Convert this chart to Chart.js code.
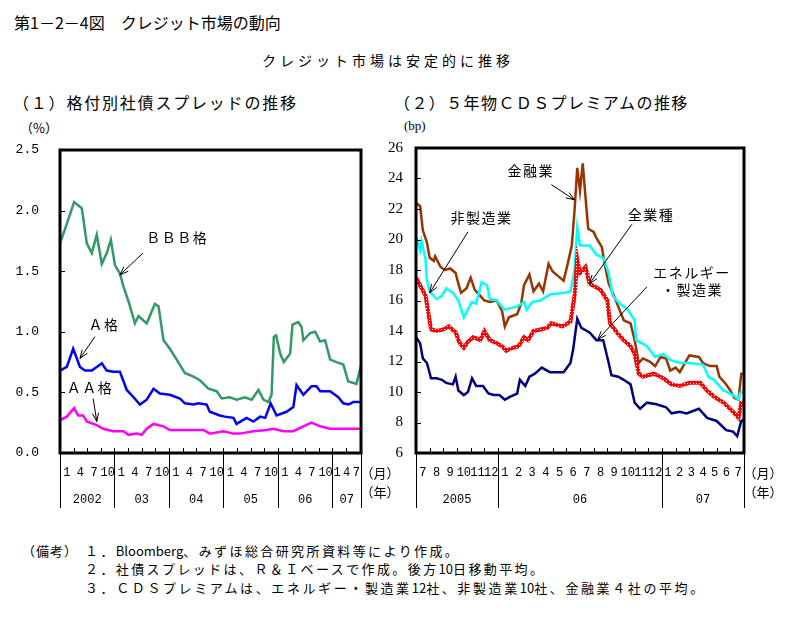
<!DOCTYPE html>
<html>
<head>
<meta charset="utf-8">
<title>クレジット市場の動向</title>
<script src="https://cdn.jsdelivr.net/npm/chart.js@4.4.0/dist/chart.umd.min.js"></script>
<style>
  body { margin: 0; background: #fff; font-family: "Noto Sans CJK JP", sans-serif; color: #000; }
  #page { position: relative; width: 796px; height: 623px; overflow: hidden; }
  .t { position: absolute; white-space: nowrap; }
  .t span { letter-spacing: 0; }
  canvas { position: absolute; }
</style>
</head>
<body>
<div id="page">
  <div class="t" style="left:14px;top:12px;font-size:16px;line-height:20px;">第1－2－4図　クレジット市場の動向</div>
  <div class="t" style="left:262px;top:50px;font-size:14px;line-height:20px;letter-spacing:4px;">クレジット市場は安定的に推移</div>
  <div class="t" style="left:13px;top:92px;font-size:16px;line-height:20px;letter-spacing:1.8px;">（１）格付別社債スプレッドの推移</div>
  <div class="t" style="left:394px;top:92px;font-size:16px;line-height:20px;letter-spacing:1.4px;">（２）５年物ＣＤＳプレミアムの推移</div>
  <div class="t" style="left:20px;top:119px;font-size:13px;line-height:18px;">（%）</div>
  <div class="t" style="left:404px;top:117px;font-size:13px;line-height:18px;font-family:'Liberation Serif',serif;">(bp)</div>

  <canvas id="spreadChart" width="400" height="390" style="left:0;top:130px"></canvas>
  <canvas id="cdsChart" width="410" height="390" style="left:380px;top:130px"></canvas>

  <div class="t" style="left:22px;top:542px;font-size:13px;line-height:18px;letter-spacing:1px;">（備考）</div>
  <div class="t" style="left:85px;top:542px;font-size:13px;line-height:18px;letter-spacing:2.4px;">１．<span>Bloomberg</span>、みずほ総合研究所資料等により作成。</div>
  <div class="t" style="left:85px;top:560px;font-size:13px;line-height:18px;letter-spacing:2.4px;">２．社債スプレッドは、Ｒ＆Ｉベースで作成。後方<span>10</span>日移動平均。</div>
  <div class="t" style="left:85px;top:579px;font-size:13px;line-height:18px;letter-spacing:2.6px;">３．ＣＤＳプレミアムは、エネルギー・製造業<span>12</span>社、非製造業<span>10</span>社、金融業４社の平均。</div>
</div>

<script>
// (1) 格付別社債スプレッド (%)   x = 2002年1月からの月数
var bbbSpread = [[0,1.73],[1.5,1.89],[3.1,2.07],[4.8,2.02],[5.9,1.73],[7.0,1.65],[8.1,1.80],[9.2,1.56],[10.3,1.65],[11.2,1.76],
  [12.1,1.55],[13.2,1.48],[14.0,1.37],[15.1,1.25],[16.5,1.07],[17.3,1.13],[19.1,1.07],[20.9,1.23],[21.7,1.21],[22.8,0.93],
  [24.2,0.86],[25.7,0.77],[27.5,0.66],[29.4,0.63],[30.8,0.60],[32.7,0.53],[34.5,0.51],[35.6,0.45],[37.4,0.46],[38.9,0.44],
  [40.7,0.46],[42.2,0.44],[43.7,0.52],[44.8,0.44],[45.9,0.42],[46.6,0.48],[47.1,0.96],[47.6,0.97],[48.5,0.82],[49.3,0.75],
  [50.7,0.82],[51.2,1.06],[52.5,1.08],[53.2,1.04],[53.6,0.93],[55.1,0.99],[56.2,1.00],[57.3,0.92],[58.4,0.93],[59.5,0.77],
  [60.9,0.75],[62.4,0.73],[63.5,0.59],[65.3,0.57],[66.3,0.72]];
var aSpread = [[0,0.68],[1.5,0.71],[2.9,0.86],[4.4,0.71],[5.5,0.68],[7.0,0.68],[8.1,0.71],[9.2,0.74],[10.3,0.68],[11.7,0.67],
  [13.2,0.67],[14.7,0.52],[16.2,0.46],[17.6,0.40],[19.1,0.44],[20.6,0.53],[22.0,0.49],[24.2,0.48],[26.4,0.45],[27.5,0.41],
  [29.4,0.40],[30.5,0.41],[32.3,0.40],[33.0,0.34],[35.2,0.31],[36.3,0.30],[38.2,0.29],[38.9,0.24],[41.1,0.29],[42.6,0.26],
  [44.1,0.30],[45.2,0.29],[46.4,0.41],[47.7,0.31],[49.9,0.34],[51.4,0.38],[52.1,0.56],[53.6,0.48],[55.4,0.55],[56.5,0.55],
  [57.3,0.51],[59.5,0.51],[61.3,0.46],[62.4,0.41],[63.5,0.40],[64.6,0.42],[66.3,0.42]];
var aaSpread = [[0,0.27],[1.5,0.30],[3.1,0.37],[4.0,0.31],[5.1,0.31],[5.9,0.26],[8.1,0.23],[9.5,0.20],[11.7,0.18],[14.0,0.18],
  [15.1,0.15],[16.9,0.16],[18.0,0.15],[19.1,0.20],[20.6,0.24],[22.8,0.22],[24.2,0.19],[26.4,0.19],[29.4,0.19],[31.6,0.19],
  [33.0,0.16],[36.0,0.18],[38.2,0.16],[39.6,0.16],[42.6,0.18],[45.5,0.19],[47.0,0.20],[49.2,0.18],[51.4,0.18],[53.6,0.22],
  [55.4,0.25],[57.3,0.22],[59.5,0.20],[61.7,0.20],[63.9,0.20],[66.3,0.20]];

var spreadYears = ['2002', '03', '04', '05', '06', '07'];
var spreadYearStart = [0, 12, 24, 36, 48, 60];
var spreadMonths = [['1','4','7','10'], ['1','4','7','10'], ['1','4','7','10'], ['1','4','7','10'], ['1','4','7','10'], ['1','4','7']];
var spreadEnd = 66.3;

// (2) 5年物CDSプレミアム (bp)   x = 2005年7月からの月数
var financeCds = [[0,22.4],[0.3,22.2],[0.5,20.6],[0.8,19.8],[1.0,18.8],[1.3,18.6],[1.4,18.9],[1.8,18.2],[2.1,18.0],[2.5,18.1],
  [2.9,17.8],[3.1,17.1],[3.3,16.5],[3.7,16.8],[4.0,17.5],[4.3,16.7],[4.7,16.3],[5.0,16.0],[5.4,15.9],[5.9,16.0],
  [6.3,15.3],[6.5,14.3],[6.8,14.9],[7.4,15.1],[7.7,15.8],[7.9,17.0],[8.3,17.7],[8.6,16.6],[9.0,17.1],[9.3,16.6],
  [9.7,18.4],[10.0,17.9],[10.4,17.6],[10.8,17.3],[11.1,18.4],[11.4,19.6],[11.6,21.9],[11.8,24.7],[12.0,23.2],[12.2,25.0],
  [12.4,22.8],[12.6,20.7],[13.0,20.5],[13.2,20.1],[13.6,19.5],[13.8,18.4],[14.1,17.1],[14.4,16.5],[14.8,15.6],[15.2,14.7],
  [15.7,14.5],[16.0,13.4],[16.3,11.9],[16.6,12.2],[17.1,12.0],[17.5,11.7],[17.9,12.3],[18.3,12.2],[18.6,11.4],[19.0,11.6],
  [19.3,11.3],[20.0,12.4],[20.7,12.3],[21.0,11.9],[21.5,11.7],[22.0,11.7],[22.2,11.0],[22.6,10.6],[23.0,10.1],[23.3,9.6],
  [23.6,9.5],[23.8,11.2],[24.0,11.2]];
var nonMfgCds = [[0,20.2],[0.3,19.3],[0.4,19.9],[0.7,18.7],[0.8,17.3],[1.0,16.6],[1.5,16.1],[1.9,16.3],[2.2,16.8],[2.7,16.5],
  [3.1,16.0],[3.5,14.9],[3.8,15.4],[4.1,15.9],[4.4,15.8],[4.8,17.2],[5.2,17.0],[5.4,16.1],[5.9,16.0],[6.1,15.8],
  [6.5,15.4],[6.9,15.5],[7.4,15.6],[7.9,15.9],[8.1,15.4],[8.5,15.9],[9.1,16.0],[9.8,16.4],[10.8,16.5],[11.3,16.6],
  [11.6,18.0],[11.8,20.8],[12.0,19.6],[12.7,19.6],[13.2,19.0],[13.7,18.8],[14.1,17.8],[14.4,16.3],[14.9,15.8],[15.5,15.4],
  [16.0,14.7],[16.1,13.4],[16.5,13.2],[16.9,13.0],[17.5,12.3],[18.1,12.5],[18.6,12.1],[19.3,11.9],[20.0,11.9],[21.0,11.8],
  [21.4,11.0],[21.8,10.8],[22.5,10.1],[23.2,9.8],[23.6,9.5],[23.7,9.9],[24.0,10.1]];
var allCds = [[0,17.5],[0.3,17.0],[0.7,16.3],[0.9,15.2],[1.1,14.1],[1.5,14.0],[2.0,14.1],[2.4,14.3],[2.9,13.9],[3.2,13.2],
  [3.5,12.9],[3.8,13.3],[4.2,13.6],[4.7,13.4],[5.0,14.0],[5.4,13.4],[5.9,13.2],[6.3,13.0],[6.6,12.7],[7.1,12.9],
  [7.5,13.0],[7.9,13.6],[8.2,13.4],[8.6,14.0],[9.1,14.1],[9.6,14.2],[9.9,14.5],[10.7,14.3],[11.3,14.6],[11.6,16.3],
  [11.8,18.7],[12.0,17.8],[12.4,18.2],[12.7,17.1],[13.5,16.7],[14.0,16.0],[14.2,14.5],[14.7,13.9],[15.2,13.4],[15.7,13.0],
  [16.0,12.5],[16.3,11.2],[16.6,11.0],[17.4,11.2],[18.1,10.9],[18.7,10.5],[19.3,10.4],[20.0,10.6],[20.8,10.6],[21.3,10.1],
  [21.8,9.7],[22.5,9.3],[23.2,8.7],[23.6,8.3],[23.8,9.3],[24.0,9.3]];
var energyMfgCds = [[0,13.6],[0.3,13.2],[0.5,12.2],[0.8,11.9],[1.1,10.9],[1.5,10.9],[1.9,10.8],[2.2,10.6],[2.7,10.5],[2.9,11.0],
  [3.1,10.1],[3.5,9.8],[3.8,10.0],[4.1,10.9],[4.4,10.4],[4.9,10.4],[5.3,9.9],[5.7,9.8],[6.1,9.8],[6.5,9.5],
  [6.9,9.7],[7.4,9.9],[7.6,10.8],[8.0,10.4],[8.3,11.0],[8.7,11.2],[9.2,11.6],[9.8,11.3],[10.8,11.3],[11.3,11.9],
  [11.5,12.8],[11.8,14.8],[12.1,14.2],[12.7,13.9],[13.2,13.4],[13.7,13.4],[14.1,11.9],[14.3,11.1],[14.8,11.0],[15.2,10.8],
  [15.7,10.5],[16.0,9.3],[16.4,8.9],[16.9,9.3],[17.6,9.2],[18.3,9.0],[18.7,8.6],[19.3,8.7],[19.8,8.6],[20.7,8.9],
  [21.3,8.3],[22.0,8.1],[22.7,7.5],[23.2,7.4],[23.5,7.1],[23.8,8.1],[24.0,8.2]];

var cdsYears = ['2005', '06', '07'];
var cdsYearStart = [0, 6, 18];
var cdsMonths = [['7','8','9','10','11','12'], ['1','2','3','4','5','6','7','8','9','10','11','12'], ['1','2','3','4','5','6','7']];
var cdsEnd = 24;

// 矢印付きの注記 (データ座標)
var spreadNotes = [
  { lines: ['ＢＢＢ格'], at: [25.8, 1.78], from: [18.3, 1.65], to: [13.2, 1.47] },
  { lines: ['Ａ格'], at: [9.7, 1.06], from: [7.7, 0.96], to: [4.4, 0.78] },
  { lines: ['ＡＡ格'], at: [6.6, 0.54], from: [7.3, 0.45], to: [8.1, 0.26] }
];
var cdsNotes = [
  { lines: ['金融業'], at: [8.4, 24.5], from: [9.9, 23.6], to: [11.6, 22.6] },
  { lines: ['非製造業'], at: [4.8, 21.4], from: [3.8, 20.5], to: [1.0, 16.5] },
  { lines: ['全業種'], at: [17.2, 21.6], from: [15.8, 21.0], to: [12.7, 17.1] },
  { lines: ['エネルギー', '・製造業'], at: [20.2, 17.85], from: [16.9, 16.9], to: [13.3, 13.45] }
];

function pts(arr) {
  return arr.map(function (p) { return { x: p[0], y: p[1] }; });
}

function line(data, color, width) {
  return { data: pts(data), borderColor: color, borderWidth: width, pointRadius: 0, tension: 0, fill: false };
}

// 枠線・目盛り・月/年ラベル・注記
var framePlugin = {
  id: 'frame',
  afterDraw: function (chart) {
    var o = chart.options.plugins.frame;
    var ctx = chart.ctx, a = chart.chartArea, xs = chart.scales.x, ys = chart.scales.y;
    ctx.save();
    ctx.strokeStyle = '#000';
    ctx.fillStyle = '#000';

    // inward ticks
    ctx.lineWidth = 1;
    ys.ticks.forEach(function (t) {
      var py = Math.round(ys.getPixelForValue(t.value)) + 0.5;
      ctx.beginPath(); ctx.moveTo(a.left, py); ctx.lineTo(a.left + 5, py); ctx.stroke();
    });
    for (var m = o.tickStep; m < o.end; m += o.tickStep) {
      var px = Math.round(xs.getPixelForValue(m)) + 0.5;
      ctx.beginPath(); ctx.moveTo(px, a.bottom); ctx.lineTo(px, a.bottom - 5); ctx.stroke();
    }

    // year dividers and labels
    ctx.font = o.labelFont;
    ctx.textAlign = 'center';
    ctx.textBaseline = 'middle';
    var bounds = o.yearStart.concat([o.end]);
    bounds.forEach(function (b) {
      var px = Math.round(xs.getPixelForValue(b)) + 0.5;
      ctx.beginPath(); ctx.moveTo(px, a.bottom); ctx.lineTo(px, a.bottom + 55); ctx.stroke();
    });
    o.years.forEach(function (yr, i) {
      var x0 = xs.getPixelForValue(bounds[i]), x1 = xs.getPixelForValue(bounds[i + 1]);
      ctx.fillText(yr, (x0 + x1) / 2, a.bottom + 47);
      var labs = o.months[i], w = (x1 - x0) / labs.length;
      labs.forEach(function (lb, j) {
        ctx.fillText(lb, x0 + w * (j + 0.5), a.bottom + 20);
      });
    });
    ctx.font = '13px "Noto Sans CJK JP"';
    ctx.fillText('（月）', a.right + 19, a.bottom + 20);
    ctx.fillText('（年）', a.right + 19, a.bottom + 39);

    // frame
    ctx.lineWidth = 3;
    ctx.strokeRect(a.left, a.top, a.right - a.left, a.bottom - a.top);

    // notes with arrows
    ctx.lineWidth = 1;
    ctx.font = '14px "Noto Sans CJK JP"';
    ctx.letterSpacing = '1.5px';
    o.notes.forEach(function (n) {
      var tx = xs.getPixelForValue(n.at[0]), ty = ys.getPixelForValue(n.at[1]);
      n.lines.forEach(function (s, k) { ctx.fillText(s, tx, ty + k * 17); });
      var fx = xs.getPixelForValue(n.from[0]), fy = ys.getPixelForValue(n.from[1]);
      var ex = xs.getPixelForValue(n.to[0]), ey = ys.getPixelForValue(n.to[1]);
      ctx.beginPath(); ctx.moveTo(fx, fy); ctx.lineTo(ex, ey); ctx.stroke();
      var ang = Math.atan2(ey - fy, ex - fx);
      ctx.beginPath();
      ctx.moveTo(ex - 9 * Math.cos(ang - 0.35), ey - 9 * Math.sin(ang - 0.35));
      ctx.lineTo(ex, ey);
      ctx.lineTo(ex - 9 * Math.cos(ang + 0.35), ey - 9 * Math.sin(ang + 0.35));
      ctx.stroke();
    });
    ctx.restore();
  }
};

// ticks.padding would also pad the top of the plot, so the gap comes from an invisible tick length
function yAxis(min, max, step, width, gap, font, fmt) {
  return {
    min: min, max: max,
    ticks: { stepSize: step, padding: 0, color: '#000', font: font, callback: fmt },
    grid: { display: false, drawTicks: true, tickLength: gap },
    border: { display: false },
    afterFit: function (s) { s.width = width; }
  };
}

new Chart(document.getElementById('spreadChart'), {
  type: 'line',
  data: {
    datasets: [
      line(aaSpread, '#ff00ff', 2.5),
      line(aSpread, '#0000ff', 2.5),
      line(bbbSpread, '#339966', 2.5)
    ]
  },
  options: {
    responsive: false,
    animation: false,
    layout: { padding: { left: 0, top: 20, right: 39, bottom: 67 } },
    plugins: {
      legend: { display: false },
      tooltip: { enabled: false },
      frame: { tickStep: 3, end: spreadEnd, yearStart: spreadYearStart, years: spreadYears, months: spreadMonths,
               labelFont: '12px "Liberation Mono"', notes: spreadNotes }
    },
    scales: {
      x: { type: 'linear', min: 0, max: spreadEnd, display: false },
      y: yAxis(0, 2.5, 0.5, 60, 21, { family: 'Liberation Mono', size: 13 }, function (v) { return v.toFixed(1); })
    }
  },
  plugins: [framePlugin]
});

var cdsCanvas = document.getElementById('cdsChart');
var tile = document.createElement('canvas');
tile.width = 3; tile.height = 3;
var tg = tile.getContext('2d');
tg.fillStyle = '#ff0000'; tg.fillRect(0, 0, 3, 3);
tg.fillStyle = '#ffffff'; tg.fillRect(1, 1, 1, 1);
var redDots = cdsCanvas.getContext('2d').createPattern(tile, 'repeat');

new Chart(cdsCanvas, {
  type: 'line',
  data: {
    datasets: [
      line(energyMfgCds, '#000080', 2.5),
      line(allCds, redDots, 4),
      line(nonMfgCds, '#00ffff', 2.5),
      line(financeCds, '#993300', 2.5)
    ]
  },
  options: {
    responsive: false,
    animation: false,
    layout: { padding: { left: 0, top: 18, right: 46, bottom: 67 } },
    plugins: {
      legend: { display: false },
      tooltip: { enabled: false },
      frame: { tickStep: 1, end: cdsEnd, yearStart: cdsYearStart, years: cdsYears, months: cdsMonths,
               labelFont: '12px "Liberation Mono"', notes: cdsNotes }
    },
    scales: {
      x: { type: 'linear', min: 0, max: cdsEnd, display: false },
      y: yAxis(6, 26, 2, 36, 13, { family: 'Liberation Serif', size: 15 }, function (v) { return v; })
    }
  },
  plugins: [framePlugin]
});
</script>
</body>
</html>
